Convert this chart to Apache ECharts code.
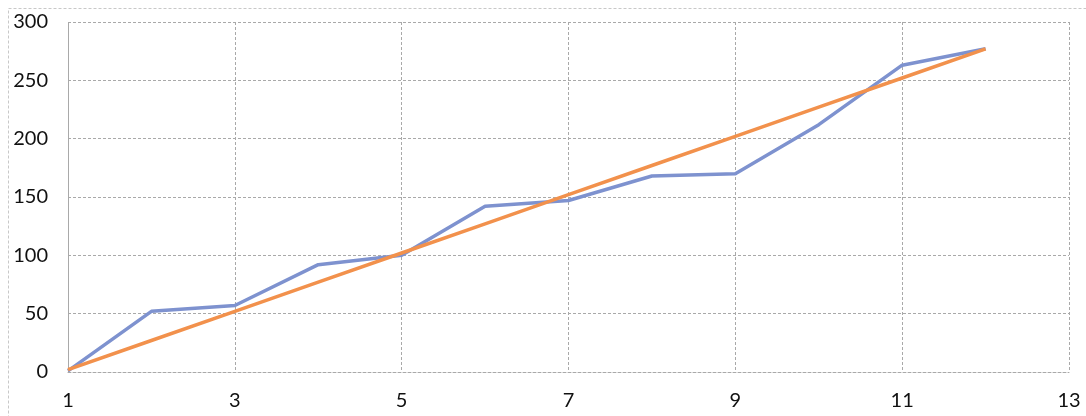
<!DOCTYPE html>
<html>
<head>
<meta charset="utf-8">
<script src="https://cdn.jsdelivr.net/npm/echarts@6/dist/echarts.min.js"></script>
<style>
  html, body { margin: 0; padding: 0; background: #fff; }
  #chart { width: 1086px; height: 416px; }
</style>
</head>
<body>
<div id="chart"></div>
<script>
// Period numbers along the horizontal axis
const periods = [1, 2, 3, 4, 5, 6, 7, 8, 9, 10, 11, 12];
// Observed cumulative totals
const observed = [1, 52, 57, 92, 100, 142, 147, 168, 170, 212, 263, 277];
// Straight reference line
const reference = [2, 27, 52, 77, 102, 127, 152, 177, 202, 227, 252, 277];
// Tick labels
const xTicks = [1, 3, 5, 7, 9, 11, 13];
const yTicks = [0, 50, 100, 150, 200, 250, 300];

const gridColor = '#a9a9a9';
const labelFont = { fontFamily: 'Lato, "Open Sans", sans-serif', fontSize: 20, color: '#111' };

const chart = echarts.init(document.getElementById('chart'), null, { renderer: 'canvas' });
chart.setOption({
  animation: false,
  backgroundColor: '#fff',
  graphic: [{
    type: 'rect',
    shape: { x: 8.5, y: 8.5, width: 1100, height: 420 },
    style: { fill: 'none', stroke: '#c8c8c8', lineWidth: 1, lineDash: [3, 2] },
    silent: true
  }],
  grid: { left: 68, right: 17, top: 22, bottom: 44 },
  xAxis: {
    type: 'value',
    min: xTicks[0],
    max: xTicks[xTicks.length - 1],
    axisLine: { show: true, lineStyle: { color: gridColor, width: 1, type: [3, 2] } },
    axisTick: { show: false, customValues: xTicks },
    axisLabel: { customValues: xTicks, margin: 19, ...labelFont },
    splitLine: { show: true, lineStyle: { color: gridColor, width: 1, type: [3, 2] } }
  },
  yAxis: {
    type: 'value',
    min: yTicks[0],
    max: yTicks[yTicks.length - 1],
    interval: 50,
    axisLine: { show: true, lineStyle: { color: gridColor, width: 1, type: [3, 2] } },
    axisTick: { show: false },
    axisLabel: { margin: 20, ...labelFont },
    splitLine: { show: true, lineStyle: { color: gridColor, width: 1, type: [3, 2] } }
  },
  series: [
    {
      name: 'Observed',
      type: 'line',
      data: periods.map((p, i) => [p, observed[i]]),
      showSymbol: false,
      lineStyle: { color: '#7e92cf', width: 3.5 },
      itemStyle: { color: '#7e92cf' },
      z: 2
    },
    {
      name: 'Reference',
      type: 'line',
      data: periods.map((p, i) => [p, reference[i]]),
      showSymbol: false,
      lineStyle: { color: '#f2914c', width: 3.5 },
      itemStyle: { color: '#f2914c' },
      z: 3
    }
  ]
});
</script>
</body>
</html>
